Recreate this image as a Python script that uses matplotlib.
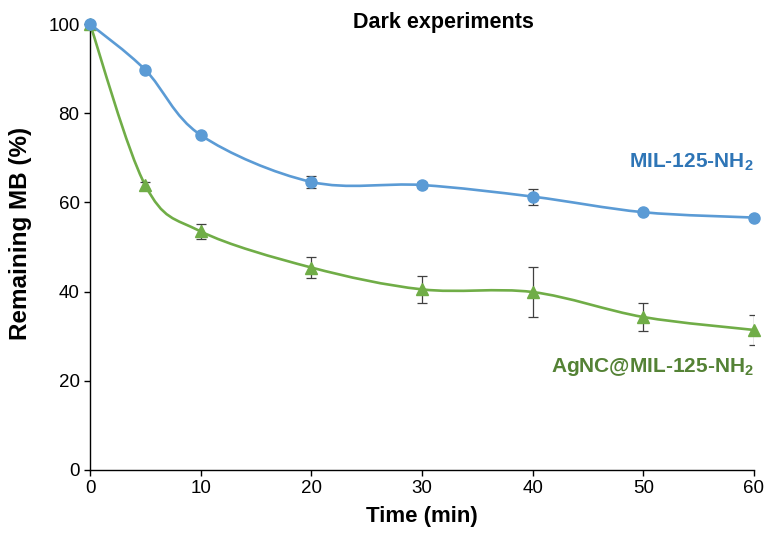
import numpy as np
import matplotlib
matplotlib.use('Agg')
import matplotlib.pyplot as plt
from matplotlib.path import Path
from matplotlib.patches import PathPatch

plt.rcParams['font.family'] = ['Liberation Sans', 'DejaVu Sans']
plt.rcParams['mathtext.fontset'] = 'custom'
plt.rcParams['mathtext.rm'] = 'Liberation Sans'
plt.rcParams['mathtext.bf'] = 'Liberation Sans:bold'

# time points (min)
time = [0, 5, 10, 20, 30, 40, 50, 60]

# remaining MB (%) and std
mil_mean = [100, 89.7, 75.1, 64.6, 63.9, 61.3, 57.8, 56.6]
mil_err = [0, 0.2, 0.2, 1.4, 0.6, 1.8, 0.5, 0.5]
ag_mean = [100, 63.8, 53.5, 45.4, 40.5, 39.9, 34.3, 31.4]
ag_err = [0, 0.7, 1.6, 2.3, 3.1, 5.6, 3.1, 3.3]

blue = '#5b9bd5'
green = '#70ad47'


def smooth_path(x, y):
    # Catmull-Rom style bezier segments, like spreadsheet "smoothed line"
    pts = np.column_stack([x, y]).astype(float)
    verts = [pts[0]]
    codes = [Path.MOVETO]
    n = len(pts)
    for i in range(n - 1):
        p0 = pts[i - 1] if i > 0 else pts[i]
        p1 = pts[i]
        p2 = pts[i + 1]
        p3 = pts[i + 2] if i + 2 < n else pts[i + 1]
        c1 = p1 + (p2 - p0) / 6.0
        c2 = p2 - (p3 - p1) / 6.0
        verts += [c1, c2, p2]
        codes += [Path.CURVE4] * 3
    return Path(verts, codes)


fig = plt.figure(figsize=(7.7, 5.35), dpi=100)
ax = fig.add_axes([0.1169, 0.1215, 0.8623, 0.8336])

# green series first so the blue one sits on top at t=0
ax.add_patch(PathPatch(smooth_path(time, ag_mean), fill=False, edgecolor=green, lw=1.9, zorder=2))
ax.errorbar(time, ag_mean, yerr=ag_err, fmt='none', ecolor='#404040', elinewidth=0.9, capsize=3.5, capthick=0.9, zorder=3)
ax.plot(time, ag_mean, '^', color=green, ms=8, zorder=4, clip_on=False)

ax.add_patch(PathPatch(smooth_path(time, mil_mean), fill=False, edgecolor=blue, lw=1.9, zorder=5))
ax.errorbar(time, mil_mean, yerr=mil_err, fmt='none', ecolor='#404040', elinewidth=0.9, capsize=3.5, capthick=0.9, zorder=6)
ax.plot(time, mil_mean, 'o', color=blue, ms=8, zorder=7, clip_on=False)

ax.set_xlim(0, 60)
ax.set_ylim(0, 100)
ax.set_xticks(range(0, 61, 10))
ax.set_yticks(range(0, 101, 20))
ax.spines['top'].set_visible(False)
ax.spines['right'].set_visible(False)
ax.spines['left'].set_linewidth(1.0)
ax.spines['bottom'].set_linewidth(1.0)
ax.tick_params(direction='out', length=4, width=1.0, labelsize=13.5)
ax.set_xlabel('Time (min)', fontsize=16, fontweight='bold', labelpad=6)
ax.set_ylabel('Remaining MB (%)', fontsize=17.5, fontweight='bold')
ax.yaxis.set_label_coords(-0.087, 0.531)

ax.text(0.532, 1.003, 'Dark experiments', transform=ax.transAxes, ha='center', va='center',
        fontsize=15.5, fontweight='bold')
ax.text(60, 69, r'MIL-125-NH$_\mathbf{2}$', ha='right', va='center', fontsize=15,
        fontweight='bold', color='#2e75b6')
ax.text(60, 23, r'AgNC@MIL-125-NH$_\mathbf{2}$', ha='right', va='center', fontsize=15,
        fontweight='bold', color='#548235')

fig.savefig('out.png', dpi=100)
